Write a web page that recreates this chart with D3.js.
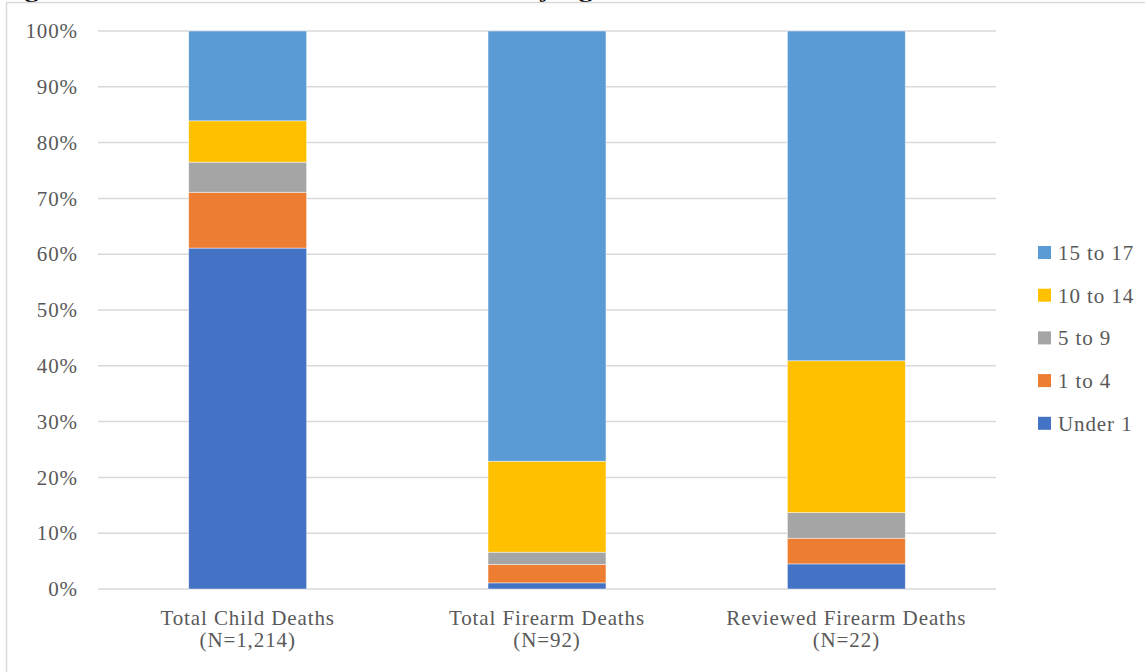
<!DOCTYPE html>
<html>
<head>
<meta charset="utf-8">
<script src="https://cdn.jsdelivr.net/npm/d3@7"></script>
<style>
  body { margin: 0; background: #fff; }
  svg { display: block; }
  text { font-family: "Liberation Serif", "DejaVu Serif", serif; }
</style>
</head>
<body>
<div id="chart"></div>
<script>
// categories (two-line labels)
var categories = ["Total Child Deaths", "Total Firearm Deaths", "Reviewed Firearm Deaths"];
var catCounts = ["(N=1,214)", "(N=92)", "(N=22)"];
// age groups, bottom to top
var ageGroups = ["Under 1", "1 to 4", "5 to 9", "10 to 14", "15 to 17"];
// percent per age group, one array per category
var childPct = [61.1, 10.0, 5.4, 7.4, 16.1];
var firearmPct = [1.1, 3.3, 2.2, 16.3, 77.1];
var reviewedPct = [4.5, 4.6, 4.6, 27.2, 59.1];
var yTicks = [0, 10, 20, 30, 40, 50, 60, 70, 80, 90, 100];

var W = 1145, H = 672;
var margin = {left: 98, top: 31, right: 149, bottom: 83};
var w = W - margin.left - margin.right;
var h = H - margin.top - margin.bottom;
var fs = 21, ls = "0.9px";

var colorScale = d3.scaleOrdinal()
    .domain(ageGroups)
    .range(["#4472C4", "#ED7D31", "#A5A5A5", "#FFC000", "#5B9BD5"]);

var rows = categories.map(function(c, i){
    var vals = [childPct, firearmPct, reviewedPct][i];
    var r = {cat: c};
    ageGroups.forEach(function(g, j){ r[g] = vals[j]; });
    return r;
});

var series = d3.stack().keys(ageGroups)(rows);

var svg = d3.select("#chart").append("svg").attr("width", W).attr("height", H);

// title, mostly cut off at the top of the picture
svg.append("text")
    .attr("x", 0).attr("y", -3)
    .attr("font-size", 20).attr("font-weight", "bold").attr("fill", "#000")
    .attr("textLength", 605).attr("lengthAdjust", "spacingAndGlyphs")
    .text("Figure 4: Child Deaths and Firearm Deaths by Age");

// outer frame
svg.append("rect")
    .attr("x", 6.5).attr("y", 2.5)
    .attr("width", W + 20).attr("height", H + 20)
    .attr("fill", "none").attr("stroke", "#d9d9d9").attr("stroke-width", 1.5);

var g = svg.append("g").attr("transform", "translate(" + margin.left + "," + margin.top + ")");

var xScale = d3.scaleBand().domain(categories).range([0, w]).paddingInner(0.606).paddingOuter(0.303);
var yScale = d3.scaleLinear().domain([0, 100]).range([h, 0]);

// gridlines
g.append("g").selectAll("line")
    .data(yTicks)
    .enter()
    .append("line")
    .attr("x1", 0).attr("x2", w)
    .attr("y1", function(d){ return yScale(d); })
    .attr("y2", function(d){ return yScale(d); })
    .attr("stroke", "#d9d9d9").attr("stroke-width", 1.5);

// y labels
var yAxis = d3.axisLeft(yScale).tickValues(yTicks).tickSize(0).tickPadding(20)
    .tickFormat(function(d){ return d + "%"; });
var yg = g.append("g").call(yAxis);
yg.select(".domain").remove();
yg.selectAll("text").attr("font-size", fs).attr("fill", "#595959")
    .attr("font-family", "'Liberation Serif', serif")
    .style("letter-spacing", ls);

// stacked bars
g.append("g").selectAll("g")
    .data(series)
    .enter()
    .append("g")
    .attr("fill", function(d){ return colorScale(d.key); })
    .selectAll("rect")
    .data(function(d){ return d; })
    .enter()
    .append("rect")
    .attr("x", function(d){ return xScale(d.data.cat); })
    .attr("y", function(d){ return yScale(d[1]); })
    .attr("width", xScale.bandwidth())
    .attr("height", function(d){ return yScale(d[0]) - yScale(d[1]); })
    .attr("stroke", "#fff").attr("stroke-width", 0.75).attr("stroke-opacity", 0.6);

// category labels
var xl = g.append("g").selectAll("text")
    .data(categories)
    .enter()
    .append("text")
    .attr("text-anchor", "middle")
    .attr("font-size", fs).attr("fill", "#595959")
    .style("letter-spacing", ls)
    .attr("x", function(d){ return xScale(d) + xScale.bandwidth() / 2; })
    .attr("y", h + 36);
xl.append("tspan").text(function(d){ return d; });
xl.append("tspan")
    .attr("x", function(d){ return xScale(d) + xScale.bandwidth() / 2; })
    .attr("dy", 22)
    .text(function(d, i){ return catCounts[i]; });

// legend, top group first
var legend = svg.append("g").attr("transform", "translate(1038,246)");
var li = legend.selectAll("g")
    .data(ageGroups.slice().reverse())
    .enter()
    .append("g")
    .attr("transform", function(d, i){ return "translate(0," + (i * 42.7) + ")"; });
li.append("rect").attr("width", 13).attr("height", 13)
    .attr("fill", function(d){ return colorScale(d); });
li.append("text").attr("x", 20).attr("y", 14)
    .attr("font-size", fs).attr("fill", "#595959")
    .style("letter-spacing", ls)
    .text(function(d){ return d; });
</script>
</body>
</html>
